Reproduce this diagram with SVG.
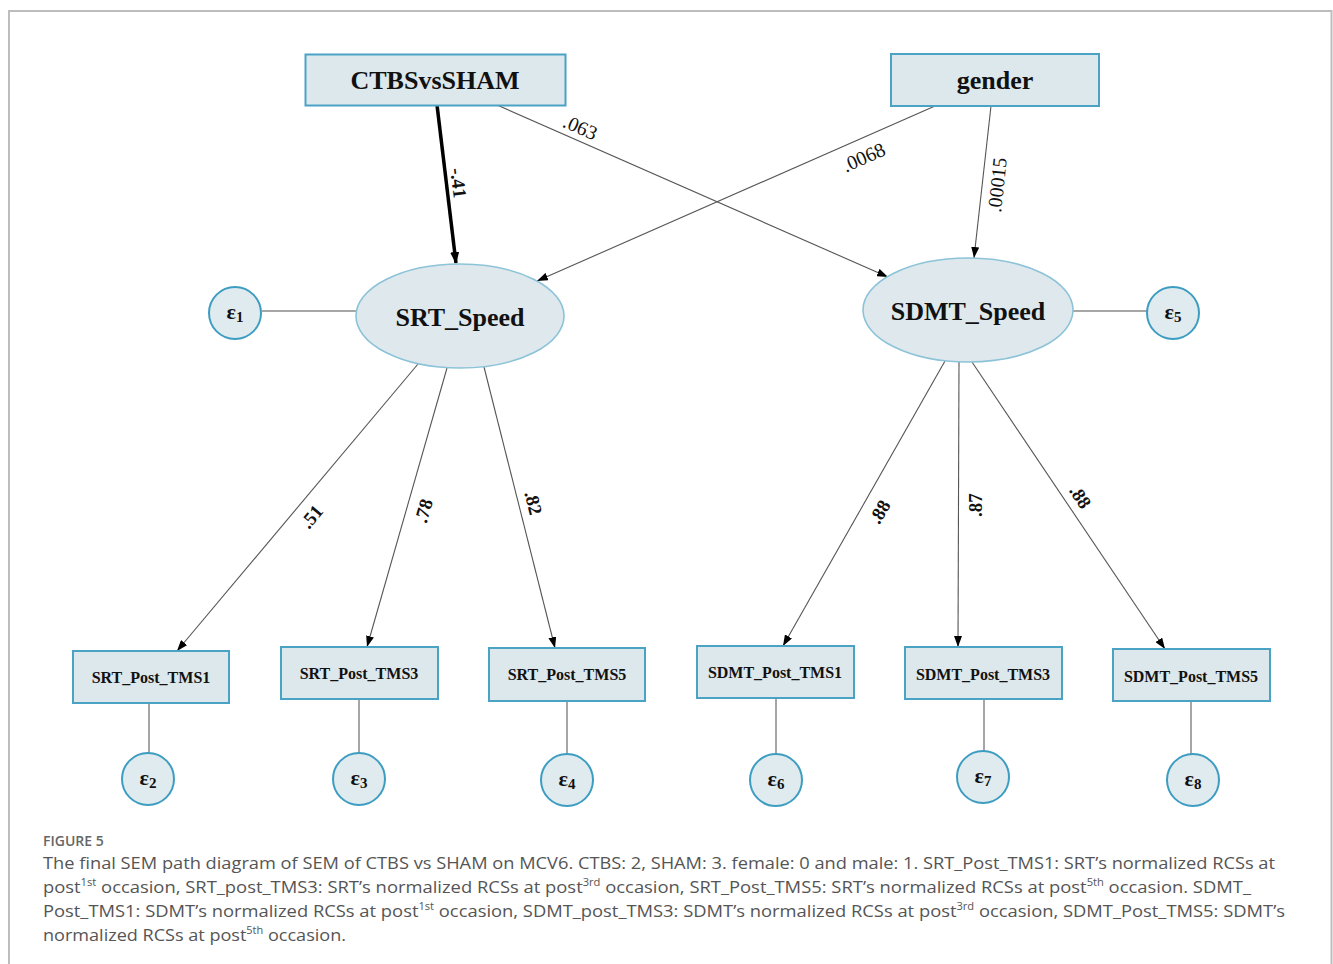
<svg xmlns="http://www.w3.org/2000/svg" width="1333" height="964" viewBox="0 0 1333 964">
<defs>
<marker id="ah" markerUnits="userSpaceOnUse" markerWidth="11" markerHeight="8" refX="11" refY="4" orient="auto">
<path d="M0,0 L11,4 L0,8 z" fill="#000"/>
</marker>
<marker id="ahb" markerUnits="userSpaceOnUse" markerWidth="12" markerHeight="9" refX="11" refY="4.5" orient="auto">
<path d="M0,0 L12,4.5 L0,9 z" fill="#000"/>
</marker>
<style>
.box{fill:#dde8ec;stroke:#4aa3c4;stroke-width:2}
.lat{fill:#dfe9ed;stroke:#8cc3d8;stroke-width:1.6}
.err{fill:#e0ebef;stroke:#3d9dc1;stroke-width:2}
.big{font-family:"Liberation Serif",serif;font-weight:bold;font-size:26px;fill:#111;text-anchor:middle}
.obs{font-family:"Liberation Serif",serif;font-weight:bold;font-size:16px;fill:#111;text-anchor:middle}
.eps{font-family:"Liberation Serif",serif;font-weight:bold;font-size:22px;fill:#111;text-anchor:middle}
.eps tspan{font-size:15px}
.path{stroke:#555;stroke-width:1.1;fill:none;marker-end:url(#ah)}
.thick{stroke:#000;stroke-width:3.5;fill:none;marker-end:url(#ahb)}
.eline{stroke:#888;stroke-width:1.5;fill:none}
.lab{font-family:"Liberation Serif",serif;font-size:20px;fill:#111;text-anchor:middle}
.labb{font-family:"Liberation Serif",serif;font-size:19px;font-weight:bold;fill:#111;text-anchor:middle}
.cap{font-family:"Open Sans",sans-serif;font-size:16.5px;fill:#555}
.capt{font-family:"Open Sans",sans-serif;font-size:14px;fill:#666;font-weight:600}
</style>
</defs>
<rect width="1333" height="964" fill="#fff"/>
<path d="M9,964 V11 H1331.5 V964" fill="none" stroke="#bdbdbd" stroke-width="2"/>

<g id="connectors">
<line class="thick" x1="437" y1="105" x2="456" y2="263"/>
<line class="path" x1="497" y1="105" x2="888" y2="277"/>
<line class="path" x1="935" y1="106" x2="537" y2="281"/>
<line class="path" x1="991" y1="106" x2="974" y2="258"/>
<line class="eline" x1="262" y1="311" x2="356" y2="311"/>
<line class="eline" x1="1073" y1="311" x2="1147" y2="311"/>
<line class="path" x1="418" y1="364" x2="177" y2="651"/>
<line class="path" x1="447" y1="368" x2="367" y2="647"/>
<line class="path" x1="484" y1="367" x2="555" y2="648"/>
<line class="path" x1="945" y1="361" x2="783" y2="646"/>
<line class="path" x1="959" y1="362" x2="958" y2="647"/>
<line class="path" x1="972" y1="362" x2="1165" y2="649"/>
<line class="eline" x1="149" y1="703" x2="149" y2="753"/>
<line class="eline" x1="359" y1="699" x2="359" y2="753"/>
<line class="eline" x1="567" y1="701" x2="567" y2="754"/>
<line class="eline" x1="776" y1="698" x2="776" y2="754"/>
<line class="eline" x1="984" y1="699" x2="984" y2="751"/>
<line class="eline" x1="1191" y1="701" x2="1191" y2="754"/>
<text class="labb" transform="translate(458,183) rotate(83)" dy="6">-.41</text>
<text class="lab" transform="translate(580,128) rotate(23.7)" dy="6">.063</text>
<text class="lab" transform="translate(864,158) rotate(-24)" dy="6">.0068</text>
<text class="lab" transform="translate(998,185) rotate(-84)" dy="6">.00015</text>
<text class="labb" transform="translate(312,517) rotate(-50)" dy="6">.51</text>
<text class="labb" transform="translate(424,511) rotate(-74)" dy="6">.78</text>
<text class="labb" transform="translate(533,503) rotate(76)" dy="6">.82</text>
<text class="labb" transform="translate(880,512) rotate(-60)" dy="6">.88</text>
<text class="labb" transform="translate(976,505) rotate(-90)" dy="6">.87</text>
<text class="labb" transform="translate(1080,497) rotate(56)" dy="6">.88</text>
</g>

<g id="CTBSvsSHAM"><rect class="box" x="305.5" y="54.5" width="260" height="51"/><text class="big" x="435" y="89">CTBSvsSHAM</text></g>
<g id="gender"><rect class="box" x="891" y="54" width="208" height="52"/><text class="big" x="995" y="89">gender</text></g>

<g id="SRT_Speed"><ellipse class="lat" cx="460" cy="316" rx="104" ry="52"/><text class="big" x="460" y="326">SRT_Speed</text></g>
<g id="SDMT_Speed"><ellipse class="lat" cx="968" cy="310" rx="105" ry="52"/><text class="big" x="968" y="320">SDMT_Speed</text></g>

<g id="e1"><circle class="err" cx="235" cy="313" r="26"/><text class="eps" x="235" y="319">ε<tspan dy="3">1</tspan></text></g>
<g id="e5"><circle class="err" cx="1173" cy="313" r="26"/><text class="eps" x="1173" y="319">ε<tspan dy="3">5</tspan></text></g>

<g id="SRT_Post_TMS1"><rect class="box" x="73" y="651" width="156" height="52"/><text class="obs" x="151" y="683">SRT_Post_TMS1</text></g>
<g id="SRT_Post_TMS3"><rect class="box" x="281" y="647" width="157" height="52"/><text class="obs" x="359" y="679">SRT_Post_TMS3</text></g>
<g id="SRT_Post_TMS5"><rect class="box" x="489" y="648" width="156" height="53"/><text class="obs" x="567" y="680">SRT_Post_TMS5</text></g>
<g id="SDMT_Post_TMS1"><rect class="box" x="697" y="646" width="157" height="52"/><text class="obs" x="775" y="678">SDMT_Post_TMS1</text></g>
<g id="SDMT_Post_TMS3"><rect class="box" x="905" y="647" width="157" height="52"/><text class="obs" x="983" y="680">SDMT_Post_TMS3</text></g>
<g id="SDMT_Post_TMS5"><rect class="box" x="1113" y="649" width="157" height="52"/><text class="obs" x="1191" y="682">SDMT_Post_TMS5</text></g>

<g id="e2"><circle class="err" cx="148" cy="779" r="26"/><text class="eps" x="148" y="785">ε<tspan dy="3">2</tspan></text></g>
<g id="e3"><circle class="err" cx="359" cy="779" r="26"/><text class="eps" x="359" y="785">ε<tspan dy="3">3</tspan></text></g>
<g id="e4"><circle class="err" cx="567" cy="780" r="26"/><text class="eps" x="567" y="786">ε<tspan dy="3">4</tspan></text></g>
<g id="e6"><circle class="err" cx="776" cy="780" r="26"/><text class="eps" x="776" y="786">ε<tspan dy="3">6</tspan></text></g>
<g id="e7"><circle class="err" cx="983" cy="777" r="26"/><text class="eps" x="983" y="783">ε<tspan dy="3">7</tspan></text></g>
<g id="e8"><circle class="err" cx="1193" cy="780" r="26"/><text class="eps" x="1193" y="786">ε<tspan dy="3">8</tspan></text></g>

<g id="caption">
<text class="capt" x="43" y="846">FIGURE 5</text>
<text class="cap" x="43" y="869" textLength="1232" lengthAdjust="spacingAndGlyphs">The final SEM path diagram of SEM of CTBS vs SHAM on MCV6. CTBS: 2, SHAM: 3. female: 0 and male: 1. SRT_Post_TMS1: SRT’s normalized RCSs at</text>
<text class="cap" x="43" y="893" textLength="1208" lengthAdjust="spacingAndGlyphs">post<tspan font-size="10" dy="-7">1st</tspan><tspan dy="7"> occasion, SRT_post_TMS3: SRT’s normalized RCSs at post</tspan><tspan font-size="10" dy="-7">3rd</tspan><tspan dy="7"> occasion, SRT_Post_TMS5: SRT’s normalized RCSs at post</tspan><tspan font-size="10" dy="-7">5th</tspan><tspan dy="7"> occasion. SDMT_</tspan></text>
<text class="cap" x="43" y="917" textLength="1242" lengthAdjust="spacingAndGlyphs">Post_TMS1: SDMT’s normalized RCSs at post<tspan font-size="10" dy="-7">1st</tspan><tspan dy="7"> occasion, SDMT_post_TMS3: SDMT’s normalized RCSs at post</tspan><tspan font-size="10" dy="-7">3rd</tspan><tspan dy="7"> occasion, SDMT_Post_TMS5: SDMT’s</tspan></text>
<text class="cap" x="43" y="941" textLength="303" lengthAdjust="spacingAndGlyphs">normalized RCSs at post<tspan font-size="10" dy="-7">5th</tspan><tspan dy="7"> occasion.</tspan></text>
</g>
</svg>
